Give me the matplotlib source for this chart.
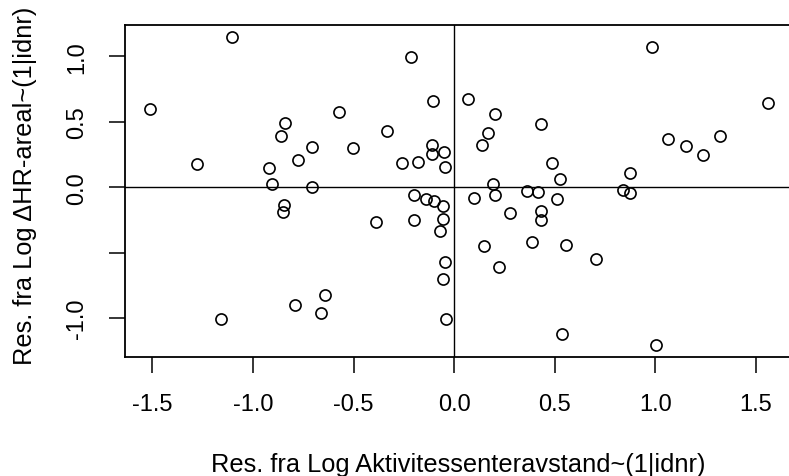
import matplotlib
matplotlib.use("Agg")
import matplotlib.pyplot as plt

# residuals
res_akt = [
    -1.103, -0.213, -1.512, -0.107, -0.574, -0.841, -0.862, -0.334, -0.705, -0.505,
    -1.277, -0.920, -0.775, -0.112, -0.110, -0.049, -0.047, -0.258, -0.181, -0.906,
    -0.705, 0.983, 0.070, 1.558, 0.203, 0.431, 0.168, 0.140, 1.063, 1.152,
    1.238, 1.320, 0.486, 0.526, 0.874, 0.193, 0.363, 0.415, 0.839, 0.875,
    0.100, 0.204, 0.512, 0.276, 0.430, 0.433, 0.148, 0.387, 0.556, 0.705,
    0.224, 0.534, 1.003, -0.200, -0.140, -0.100, -0.057, -0.054, -0.069, -0.198,
    -0.390, -0.844, -0.852, -0.044, -0.057, -0.041, -0.644, -0.790, -0.661, -1.161,
]
res_hr = [
    1.147, 0.994, 0.599, 0.660, 0.578, 0.494, 0.394, 0.433, 0.311, 0.303,
    0.176, 0.145, 0.206, 0.321, 0.257, 0.272, 0.153, 0.186, 0.193, 0.023,
    0.002, 1.075, 0.675, 0.642, 0.560, 0.486, 0.413, 0.321, 0.367, 0.316,
    0.245, 0.394, 0.186, 0.066, 0.112, 0.025, -0.026, -0.036, -0.023, -0.041,
    -0.084, -0.061, -0.089, -0.199, -0.184, -0.250, -0.446, -0.416, -0.441, -0.550,
    -0.607, -1.124, -1.206, -0.059, -0.087, -0.107, -0.145, -0.245, -0.336, -0.252,
    -0.268, -0.138, -0.191, -0.573, -0.701, -1.007, -0.821, -0.902, -0.959, -1.009,
]
x_ticks = [-1.5, -1.0, -0.5, 0.0, 0.5, 1.0, 1.5]
y_ticks = [-1.0, -0.5, 0.0, 0.5, 1.0]
y_tick_labels = ["-1.0", "", "0.0", "0.5", "1.0"]

plt.rcParams['font.family'] = ['Liberation Sans', 'DejaVu Sans']

fig = plt.figure(figsize=(7.89, 4.77), dpi=100)
# right edge of the plot box falls just outside the picture, like the reference
ax = fig.add_axes([0.1584, 0.2488, 0.8436, 0.6973])

ax.plot(res_akt, res_hr, linestyle='none', marker='o', markersize=8,
        markerfacecolor='none', markeredgecolor='black', markeredgewidth=1.2)
ax.axhline(0, color='black', linewidth=1.0)
ax.axvline(0, color='black', linewidth=1.0)

ax.set_xlim(-1.636, 1.672)
ax.set_ylim(-1.300, 1.243)

ax.set_xticks(x_ticks, [f"{v:.1f}" for v in x_ticks])
ax.set_yticks(y_ticks, y_tick_labels)
for lbl in ax.get_yticklabels():
    lbl.set_rotation(90)
    lbl.set_va('center')
ax.tick_params(direction='out', length=11.5, width=1.1, labelsize=17, colors='black')
ax.tick_params(axis='x', pad=14)
ax.tick_params(axis='y', pad=15)

for sp in ax.spines.values():
    sp.set_linewidth(1.3)

ax.text(0.5, -0.32, "Res. fra Log Aktivitessenteravstand~(1|idnr)", transform=ax.transAxes,
        ha='center', va='center', fontsize=18.3)
fig.text(25 / 789, 1 - 186 / 477, "Res. fra Log \u0394HR-areal~(1|idnr)", rotation=90,
         ha='center', va='center', fontsize=18.3)

plt.savefig("out.png", dpi=100)
